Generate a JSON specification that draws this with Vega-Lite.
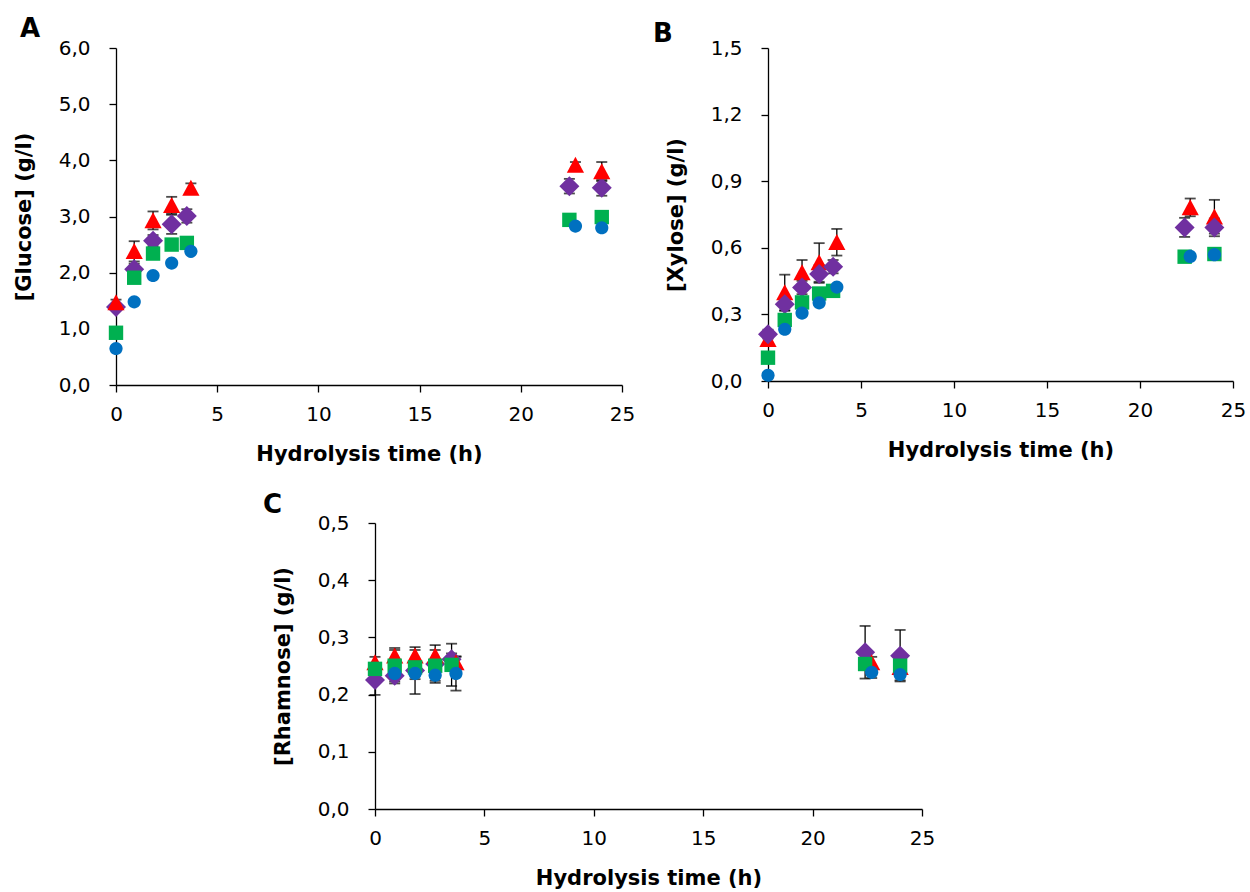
{
  "$schema": "https://vega.github.io/schema/vega-lite/v6.json",
  "background": "white",
  "padding": {"left": 13, "top": 16, "right": 5, "bottom": 5},
  "datasets": {
    "glucose": [
      {"series": "S3", "t": 0, "v": 1.39, "e": 0.05},
      {"series": "S3", "t": 0.9, "v": 2.06, "e": 0.1},
      {"series": "S3", "t": 1.83, "v": 2.57, "e": 0.1},
      {"series": "S3", "t": 2.75, "v": 2.86, "e": 0.17},
      {"series": "S3", "t": 3.5, "v": 3.01, "e": 0.12},
      {"series": "S3", "t": 22.4, "v": 3.54, "e": 0.13},
      {"series": "S3", "t": 24, "v": 3.51, "e": 0.14},
      {"series": "S4", "t": 0, "v": 1.47, "e": 0.05},
      {"series": "S4", "t": 0.9, "v": 2.38, "e": 0.18},
      {"series": "S4", "t": 1.83, "v": 2.93, "e": 0.16},
      {"series": "S4", "t": 2.75, "v": 3.2, "e": 0.15},
      {"series": "S4", "t": 3.7, "v": 3.51, "e": 0.08},
      {"series": "S4", "t": 22.7, "v": 3.92, "e": 0.05},
      {"series": "S4", "t": 24, "v": 3.8, "e": 0.17},
      {"series": "S2", "t": 0, "v": 0.93, "e": 0.04},
      {"series": "S2", "t": 0.9, "v": 1.91, "e": 0.04},
      {"series": "S2", "t": 1.83, "v": 2.34, "e": 0.04},
      {"series": "S2", "t": 2.75, "v": 2.5, "e": 0.04},
      {"series": "S2", "t": 3.5, "v": 2.53, "e": 0.04},
      {"series": "S2", "t": 22.4, "v": 2.94, "e": 0.04},
      {"series": "S2", "t": 24, "v": 2.99, "e": 0.04},
      {"series": "S1", "t": 0, "v": 0.65, "e": 0.03},
      {"series": "S1", "t": 0.9, "v": 1.48, "e": 0.03},
      {"series": "S1", "t": 1.83, "v": 1.95, "e": 0.03},
      {"series": "S1", "t": 2.75, "v": 2.17, "e": 0.03},
      {"series": "S1", "t": 3.7, "v": 2.38, "e": 0.03},
      {"series": "S1", "t": 22.7, "v": 2.83, "e": 0.03},
      {"series": "S1", "t": 24, "v": 2.8, "e": 0.03}
    ],
    "xylose": [
      {"series": "S4", "t": 0, "v": 0.188, "e": 0.02},
      {"series": "S4", "t": 0.9, "v": 0.399, "e": 0.08},
      {"series": "S4", "t": 1.83, "v": 0.489, "e": 0.056},
      {"series": "S4", "t": 2.75, "v": 0.534, "e": 0.087},
      {"series": "S4", "t": 3.7, "v": 0.625, "e": 0.06},
      {"series": "S4", "t": 22.7, "v": 0.782, "e": 0.04},
      {"series": "S4", "t": 24, "v": 0.74, "e": 0.076},
      {"series": "S3", "t": 0, "v": 0.211, "e": 0.02},
      {"series": "S3", "t": 0.9, "v": 0.346, "e": 0.03},
      {"series": "S3", "t": 1.83, "v": 0.421, "e": 0.03},
      {"series": "S3", "t": 2.75, "v": 0.482, "e": 0.04},
      {"series": "S3", "t": 3.5, "v": 0.515, "e": 0.03},
      {"series": "S3", "t": 22.4, "v": 0.692, "e": 0.043},
      {"series": "S3", "t": 24, "v": 0.692, "e": 0.04},
      {"series": "S2", "t": 0, "v": 0.105, "e": 0.015},
      {"series": "S2", "t": 0.9, "v": 0.275, "e": 0.015},
      {"series": "S2", "t": 1.83, "v": 0.354, "e": 0.015},
      {"series": "S2", "t": 2.75, "v": 0.394, "e": 0.015},
      {"series": "S2", "t": 3.5, "v": 0.406, "e": 0.015},
      {"series": "S2", "t": 22.4, "v": 0.56, "e": 0.015},
      {"series": "S2", "t": 24, "v": 0.572, "e": 0.015},
      {"series": "S1", "t": 0, "v": 0.026, "e": 0.01},
      {"series": "S1", "t": 0.9, "v": 0.233, "e": 0.01},
      {"series": "S1", "t": 1.83, "v": 0.306, "e": 0.01},
      {"series": "S1", "t": 2.75, "v": 0.352, "e": 0.01},
      {"series": "S1", "t": 3.7, "v": 0.423, "e": 0.01},
      {"series": "S1", "t": 22.7, "v": 0.561, "e": 0.01},
      {"series": "S1", "t": 24, "v": 0.569, "e": 0.01}
    ],
    "rhamnose": [
      {"series": "S3", "t": 0, "v": 0.2255, "e": 0.026},
      {"series": "S3", "t": 0.9, "v": 0.233, "e": 0.01},
      {"series": "S3", "t": 1.83, "v": 0.242, "e": 0.041},
      {"series": "S3", "t": 2.75, "v": 0.2535, "e": 0.033},
      {"series": "S3", "t": 3.5, "v": 0.262, "e": 0.01},
      {"series": "S3", "t": 22.4, "v": 0.274, "e": 0.046},
      {"series": "S3", "t": 24, "v": 0.268, "e": 0.045},
      {"series": "S4", "t": 0, "v": 0.256, "e": 0.01},
      {"series": "S4", "t": 0.9, "v": 0.268, "e": 0.01},
      {"series": "S4", "t": 1.83, "v": 0.268, "e": 0.01},
      {"series": "S4", "t": 2.75, "v": 0.268, "e": 0.01},
      {"series": "S4", "t": 3.7, "v": 0.256, "e": 0.01},
      {"series": "S4", "t": 22.7, "v": 0.256, "e": 0.01},
      {"series": "S4", "t": 24, "v": 0.248, "e": 0.01},
      {"series": "S2", "t": 0, "v": 0.245, "e": 0.01},
      {"series": "S2", "t": 0.9, "v": 0.2505, "e": 0.031},
      {"series": "S2", "t": 1.83, "v": 0.2476, "e": 0.01},
      {"series": "S2", "t": 2.75, "v": 0.2505, "e": 0.01},
      {"series": "S2", "t": 3.5, "v": 0.252, "e": 0.037},
      {"series": "S2", "t": 22.4, "v": 0.2535, "e": 0.01},
      {"series": "S2", "t": 24, "v": 0.2505, "e": 0.01},
      {"series": "S1", "t": 0.9, "v": 0.237, "e": 0.01},
      {"series": "S1", "t": 1.83, "v": 0.237, "e": 0.01},
      {"series": "S1", "t": 2.75, "v": 0.234, "e": 0.01},
      {"series": "S1", "t": 3.7, "v": 0.237, "e": 0.03},
      {"series": "S1", "t": 22.7, "v": 0.239, "e": 0.01},
      {"series": "S1", "t": 24, "v": 0.235, "e": 0.01}
    ]
  },
  "spacing": 28,
  "vconcat": [
    {
      "bounds": "flush",
      "spacing": 146,
      "hconcat": [
        {
          "width": 506,
          "height": 337,
          "data": {"name": "glucose"},
          "title": {"text": "A", "anchor": "start", "frame": "group", "dx": -96, "offset": -4},
          "layer": [
            {
              "mark": {"type": "errorbar", "color": "black", "thickness": 1.3, "ticks": {"size": 11, "thickness": 1.8, "color": "black"}},
              "encoding": {
                "x": {"field": "t", "type": "quantitative", "scale": {"domain": [0, 25], "nice": false}, "axis": {"values": [0, 5, 10, 15, 20, 25], "title": "Hydrolysis time (h)"}},
                "y": {"field": "v", "type": "quantitative", "scale": {"domain": [0, 6], "nice": false}, "axis": {"values": [0, 1, 2, 3, 4, 5, 6], "labelExpr": "replace(format(datum.value, '.1f'), '.', ',')", "title": "[Glucose] (g/l)"}},
                "yError": {"field": "e"}
              }
            },
            {
              "mark": {"type": "point", "filled": true, "opacity": 1, "size": 400, "strokeWidth": 0},
              "encoding": {
                "x": {"field": "t", "type": "quantitative"},
                "y": {"field": "v", "type": "quantitative"},
                "color": {"field": "series", "type": "nominal", "scale": {"domain": ["S1", "S2", "S3", "S4"], "range": ["#0070C0", "#00B050", "#7030A0", "#FF0000"]}, "legend": null},
                "shape": {"field": "series", "type": "nominal", "scale": {"domain": ["S1", "S2", "S3", "S4"], "range": ["M-0.66,0A0.66,0.66,0,1,1,0.66,0A0.66,0.66,0,1,1,-0.66,0Z", "M-0.72,-0.72H0.72V0.72H-0.72Z", "M-1,0L0,-1L1,0L0,1Z", "M0,-0.82L0.86,0.78L-0.86,0.78Z"]}, "legend": null}
              }
            }
          ]
        },
        {
          "width": 465,
          "height": 333,
          "data": {"name": "xylose"},
          "title": {"text": "B", "anchor": "start", "frame": "group", "dx": -115, "offset": -9},
          "layer": [
            {
              "mark": {"type": "errorbar", "color": "black", "thickness": 1.3, "ticks": {"size": 11, "thickness": 1.8, "color": "black"}},
              "encoding": {
                "x": {"field": "t", "type": "quantitative", "scale": {"domain": [0, 25], "nice": false}, "axis": {"values": [0, 5, 10, 15, 20, 25], "title": "Hydrolysis time (h)"}},
                "y": {"field": "v", "type": "quantitative", "scale": {"domain": [0, 1.5], "nice": false}, "axis": {"values": [0, 0.3, 0.6, 0.9, 1.2, 1.5], "labelExpr": "replace(format(datum.value, '.1f'), '.', ',')", "title": "[Xylose] (g/l)"}},
                "yError": {"field": "e"}
              }
            },
            {
              "mark": {"type": "point", "filled": true, "opacity": 1, "size": 400, "strokeWidth": 0},
              "encoding": {
                "x": {"field": "t", "type": "quantitative"},
                "y": {"field": "v", "type": "quantitative"},
                "color": {"field": "series", "type": "nominal", "scale": {"domain": ["S1", "S2", "S3", "S4"], "range": ["#0070C0", "#00B050", "#7030A0", "#FF0000"]}, "legend": null},
                "shape": {"field": "series", "type": "nominal", "scale": {"domain": ["S1", "S2", "S3", "S4"], "range": ["M-0.66,0A0.66,0.66,0,1,1,0.66,0A0.66,0.66,0,1,1,-0.66,0Z", "M-0.72,-0.72H0.72V0.72H-0.72Z", "M-1,0L0,-1L1,0L0,1Z", "M0,-0.82L0.86,0.78L-0.86,0.78Z"]}, "legend": null}
              }
            }
          ]
        }
      ]
    },
    {
      "bounds": "flush",
      "spacing": 20,
      "hconcat": [
        {
          "width": 239,
          "height": 10,
          "data": {"values": []},
          "mark": {"type": "point", "opacity": 0}
        },
        {
          "width": 547,
          "height": 286,
          "data": {"name": "rhamnose"},
          "title": {"text": "C", "anchor": "start", "frame": "group", "dx": -112, "offset": -5},
          "layer": [
            {
              "mark": {"type": "errorbar", "color": "black", "thickness": 1.3, "ticks": {"size": 11, "thickness": 1.8, "color": "black"}},
              "encoding": {
                "x": {"field": "t", "type": "quantitative", "scale": {"domain": [0, 25], "nice": false}, "axis": {"values": [0, 5, 10, 15, 20, 25], "title": "Hydrolysis time (h)"}},
                "y": {"field": "v", "type": "quantitative", "scale": {"domain": [0, 0.5], "nice": false}, "axis": {"values": [0, 0.1, 0.2, 0.3, 0.4, 0.5], "labelExpr": "replace(format(datum.value, '.1f'), '.', ',')", "title": "[Rhamnose] (g/l)"}},
                "yError": {"field": "e"}
              }
            },
            {
              "mark": {"type": "point", "filled": true, "opacity": 1, "size": 400, "strokeWidth": 0},
              "encoding": {
                "x": {"field": "t", "type": "quantitative"},
                "y": {"field": "v", "type": "quantitative"},
                "color": {"field": "series", "type": "nominal", "scale": {"domain": ["S1", "S2", "S3", "S4"], "range": ["#0070C0", "#00B050", "#7030A0", "#FF0000"]}, "legend": null},
                "shape": {"field": "series", "type": "nominal", "scale": {"domain": ["S1", "S2", "S3", "S4"], "range": ["M-0.66,0A0.66,0.66,0,1,1,0.66,0A0.66,0.66,0,1,1,-0.66,0Z", "M-0.72,-0.72H0.72V0.72H-0.72Z", "M-1,0L0,-1L1,0L0,1Z", "M0,-0.82L0.86,0.78L-0.86,0.78Z"]}, "legend": null}
              }
            }
          ]
        }
      ]
    }
  ],
  "config": {
    "view": {"stroke": null},
    "axis": {
      "grid": false,
      "domainColor": "black",
      "domainWidth": 1.3,
      "tickColor": "black",
      "tickWidth": 1.3,
      "tickSize": 7,
      "labelColor": "black",
      "labelFont": "DejaVu Sans",
      "labelFontSize": 20,
      "titleColor": "black",
      "titleFont": "DejaVu Sans",
      "titleFontSize": 21,
      "titleFontWeight": "bold",
      "labelFlush": false,
      "labelOverlap": false
    },
    "axisX": {"labelPadding": 12, "titlePadding": 19},
    "axisY": {"labelPadding": 19, "titlePadding": 24},
    "title": {"font": "DejaVu Sans", "fontSize": 26, "fontWeight": "bold", "color": "black"}
  }
}
